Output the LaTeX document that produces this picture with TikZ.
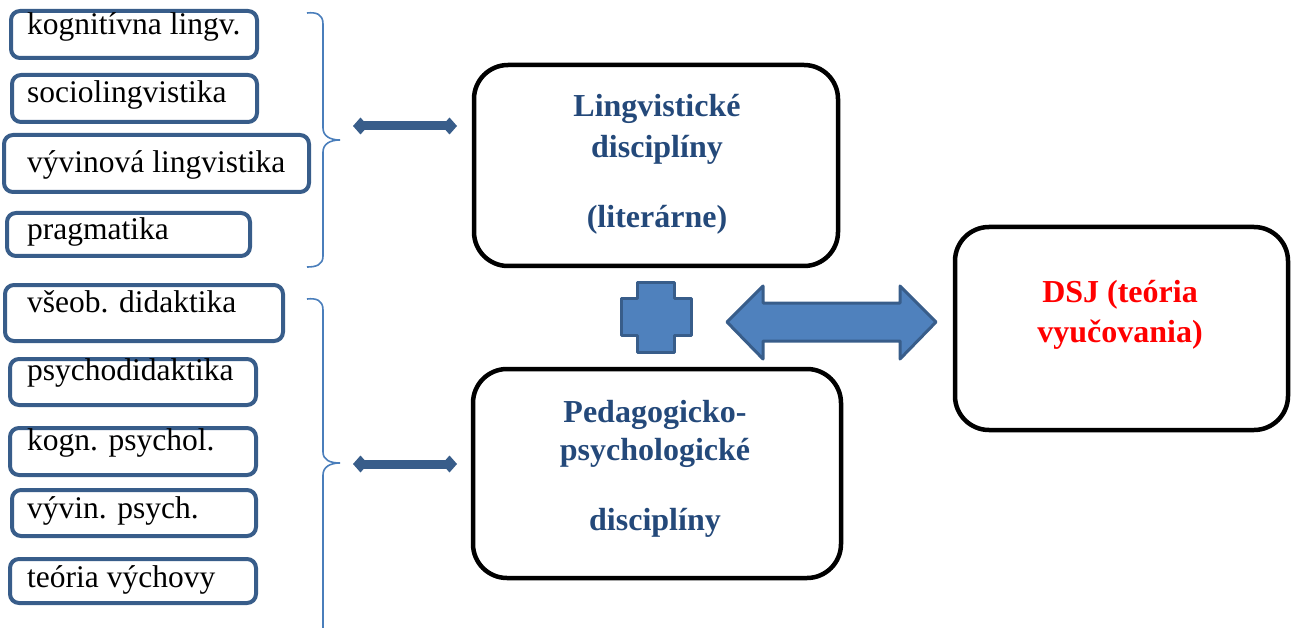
\documentclass[tikz,border=0pt]{standalone}
\usepackage{fontspec}
\setmainfont{Liberation Serif}
\usetikzlibrary{arrows.meta}

\definecolor{edgeblue}{HTML}{385D8A}
\definecolor{fillblue}{HTML}{4F81BD}
\definecolor{bracecol}{HTML}{4A7EBB}
\definecolor{headblue}{HTML}{24497A}
\definecolor{dsjred}{HTML}{FF0000}

\tikzset{
  sbox/.style={draw=edgeblue, line width=4pt, rounded corners=9pt, fill=white, inner sep=0pt},
  stext/.style={anchor=base west, inner sep=0pt, font=\fontsize{31.5}{36}\selectfont},
  bigbox/.style={draw=black, line width=4.5pt, rounded corners=34pt, fill=white, inner sep=0pt},
  btext/.style={anchor=base, inner sep=0pt, text=headblue, font=\fontsize{32}{36}\selectfont\bfseries},
  rtext/.style={anchor=base, inner sep=0pt, text=dsjred, font=\fontsize{32}{36}\selectfont\bfseries},
  brace/.style={draw=bracecol, line width=1.6pt},
  link/.style={draw=edgeblue, line width=9pt,
    {Diamond[length=15pt,width=17pt]}-{Diamond[length=15pt,width=17pt]}},
  block/.style={fill=fillblue, draw=edgeblue, line width=3pt, line join=round},
}

\begin{document}
\begin{tikzpicture}[x=1pt,y=-1pt]
\useasboundingbox (0,0) rectangle (1295,628);

% left column: linguistic disciplines
\node[sbox, minimum width=246pt, minimum height=47pt] (k1) at (134,34.5) {};
\node[stext] (t1) at (27,35) {kognitívna lingv.};
\node[sbox, minimum width=245pt, minimum height=47pt] (k2) at (134.5,98.5) {};
\node[stext] (t2) at (27,103) {sociolingvistika};
\node[sbox, minimum width=305pt, minimum height=57pt] (k3) at (156.5,163.5) {};
\node[stext] (t3) at (27,173) {vývinová lingvistika};
\node[sbox, minimum width=243pt, minimum height=43pt] (k4) at (128.5,234.5) {};
\node[stext] (t4) at (27,240) {pragmatika};

% left column: pedagogical-psychological disciplines
\node[sbox, minimum width=278pt, minimum height=56pt] (p1) at (144,313) {};
\node[stext] (u1) at (27,312) {všeob. didaktika};
\node[sbox, minimum width=246pt, minimum height=46pt] (p2) at (133,382) {};
\node[stext] (u2) at (27,380) {psychodidaktika};
\node[sbox, minimum width=246pt, minimum height=47pt] (p3) at (133,451.5) {};
\node[stext] (u3) at (27,450) {kogn. psychol.};
\node[sbox, minimum width=244pt, minimum height=46pt] (p4) at (134,513) {};
\node[stext] (u4) at (27,518) {vývin. psych.};
\node[sbox, minimum width=246pt, minimum height=44pt] (p5) at (133,581) {};
\node[stext] (u5) at (27,587) {teória výchovy};

% braces
\coordinate (tip1) at (340,140);
\coordinate (tip2) at (340,463);
\draw[brace] (307,13) .. controls (316,12) and (323,14) .. (323,24) -- (323,128)
  .. controls (323,136) and (330,140) .. (tip1)
  .. controls (330,140) and (323,144) .. (323,152) -- (323,256)
  .. controls (323,265) and (316,267) .. (307,267);
\draw[brace] (307,299) .. controls (316,298) and (323,300) .. (323,310) -- (323,452)
  .. controls (323,460) and (330,463) .. (tip2)
  .. controls (330,463) and (323,467) .. (323,475) -- (323,640);

% central boxes
\node[bigbox, minimum width=364pt, minimum height=201pt] (ling) at (656,165.5) {};
\node[btext] (l1) at (657,117) {Lingvistické};
\node[btext] (l2) at (657,158) {disciplíny};
\node[btext] (l3) at (657,228) {(literárne)};

\node[bigbox, minimum width=368pt, minimum height=209pt] (ped) at (657,473.5) {};
\node[btext] (d1) at (655,422) {Pedagogicko-};
\node[btext] (d2) at (655,460) {psychologické};
\node[btext] (d3) at (655,530) {disciplíny};

\node[bigbox, minimum width=333pt, minimum height=203pt] (dsj) at (1121.5,328.5) {};
\node[rtext] (r1) at (1120,302) {DSJ (teória};
\node[rtext] (r2) at (1120,342) {vyučovania)};

% links from the braces to the boxes
\coordinate (a1l) at (353,126);
\coordinate (a1r) at (457,126);
\coordinate (a2l) at (353,464);
\coordinate (a2r) at (457,464);
\draw[link] (a1l) -- (a1r);
\draw[link] (a2l) -- (a2r);

% plus sign
\draw[block] (637,282) -- (674,282) -- (674,298) -- (691,298) -- (691,335) -- (674,335)
  -- (674,352) -- (637,352) -- (637,335) -- (621,335) -- (621,298) -- (637,298) -- cycle;

% block double arrow towards DSJ
\draw[block] (727,322) -- (763,286) -- (763,303) -- (900,303) -- (900,286) -- (936,322)
  -- (900,359) -- (900,341) -- (763,341) -- (763,359) -- cycle;
\end{tikzpicture}
\end{document}
